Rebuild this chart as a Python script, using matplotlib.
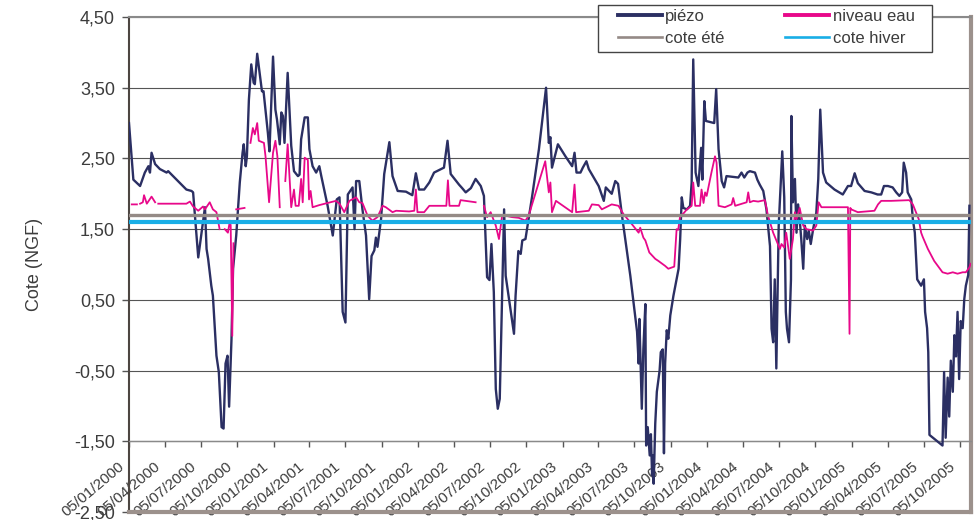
import matplotlib
matplotlib.use("Agg")
import matplotlib.pyplot as plt
import matplotlib.transforms as mtrans
from matplotlib.patches import Rectangle
import numpy as np
import pandas as pd

plt.rcParams['font.family'] = ['Liberation Sans', 'DejaVu Sans']

# --- données (jours depuis le 05/01/2000, cote NGF) ---
debut = pd.Timestamp('2000-01-05')
fin_jours = 2128

jours_piezo = [0, 11, 28, 40, 49, 53, 57, 66, 78, 95, 99, 145, 158, 162, 175, 192, 196, 200, 208, 212,
               221, 227, 234, 239, 244, 249, 253, 259, 263, 271, 280, 287, 290, 295, 298, 303, 309, 315, 318, 324,
               336, 340, 351, 355, 364, 370, 374, 381, 385, 389, 393, 401, 410, 417, 427, 431, 435, 444, 452, 456,
               464, 473, 481, 486, 502, 515, 525, 532, 540, 547, 553, 565, 570, 574, 582, 590, 599, 607, 613, 620,
               624, 628, 637, 645, 658, 666, 679, 700, 716, 725, 733, 746, 759, 771, 796, 805, 813, 834, 842, 851,
               864, 876, 889, 897, 902, 905, 911, 916, 922, 927, 932, 937, 942, 948, 952, 973, 977, 984, 990, 994,
               1002, 1019, 1036, 1054, 1061, 1065, 1069, 1084, 1103, 1120, 1126, 1131, 1141, 1147, 1156, 1162, 1187, 1200, 1205, 1220,
               1229, 1236, 1246, 1267, 1284, 1288, 1290, 1296, 1300, 1305, 1307, 1311, 1316, 1319, 1322, 1324, 1326, 1330, 1334, 1341,
               1344, 1349, 1352, 1355, 1359, 1363, 1368, 1376, 1389, 1393, 1397, 1401, 1410, 1418, 1422, 1426, 1432, 1439, 1446, 1449,
               1454, 1458, 1479, 1484, 1490, 1498, 1504, 1510, 1540, 1548, 1555, 1563, 1569, 1582, 1588, 1594, 1603, 1611, 1620, 1624,
               1628, 1632, 1636, 1642, 1651, 1656, 1660, 1663, 1668, 1673, 1674, 1678, 1683, 1687, 1691, 1695, 1699, 1704, 1708, 1714,
               1718, 1723, 1729, 1737, 1742, 1747, 1754, 1762, 1783, 1804, 1817, 1825, 1834, 1842, 1859, 1876, 1892, 1901, 1908, 1918,
               1930, 1939, 1947, 1954, 1958, 1964, 1968, 1977, 1981, 1986, 1992, 2002, 2009, 2012, 2017, 2020, 2023, 2056, 2060, 2064,
               2069, 2073, 2077, 2082, 2086, 2090, 2094, 2098, 2102, 2107, 2111, 2115, 2121, 2124]
cote_piezo = [3.00, 2.20, 2.11, 2.30, 2.39, 2.30, 2.58, 2.42, 2.35, 2.30, 2.32, 2.06, 2.04, 2.02, 1.10, 1.81, 1.22, 1.08, 0.70, 0.56,
              -0.29, -0.52, -1.30, -1.32, -0.40, -0.29, -1.01, -0.06, 0.94, 1.41, 2.16, 2.58, 2.70, 2.39, 2.53, 3.33, 3.83, 3.57, 3.55, 3.98,
              3.45, 3.45, 2.86, 2.60, 3.94, 3.19, 3.05, 2.70, 3.15, 3.10, 2.72, 3.71, 2.68, 2.32, 2.25, 2.27, 2.77, 3.08, 3.08, 2.63,
              2.39, 2.30, 2.39, 2.25, 1.83, 1.41, 1.92, 1.95, 0.33, 0.18, 1.99, 2.09, 1.50, 2.18, 2.18, 1.78, 1.41, 0.51, 1.12, 1.20,
              1.38, 1.25, 1.64, 2.28, 2.73, 2.25, 2.04, 2.03, 1.98, 2.29, 2.06, 2.06, 2.16, 2.30, 2.37, 2.75, 2.28, 2.13, 2.08, 2.02,
              2.08, 2.21, 2.11, 1.97, 1.26, 0.82, 0.78, 1.29, 0.61, -0.76, -1.04, -0.90, 0.30, 1.78, 0.84, 0.02, 0.56, 1.19, 1.15, 1.34,
              1.36, 1.97, 2.63, 3.50, 2.72, 2.80, 2.37, 2.70, 2.53, 2.39, 2.58, 2.30, 2.30, 2.37, 2.46, 2.35, 2.11, 1.90, 2.09, 2.00,
              2.18, 2.14, 1.69, 0.84, 0.05, -0.40, 0.23, -1.04, -0.19, 0.44, -1.56, -1.30, -1.70, -1.40, -1.98, -1.70, -2.10, -1.25, -0.80, -0.50,
              -0.24, -0.20, -1.67, -0.40, 0.07, -0.05, 0.28, 0.56, 0.94, 1.36, 1.95, 1.80, 1.78, 1.83, 2.16, 3.90, 2.30, 2.11, 2.65, 2.20,
              3.31, 3.03, 3.00, 3.48, 2.63, 2.18, 2.09, 2.25, 2.23, 2.30, 2.23, 2.30, 2.32, 2.30, 2.20, 2.13, 2.04, 1.78, 1.26, 0.09,
              -0.10, 0.79, -0.47, 1.55, 2.60, 1.95, 0.33, 0.09, -0.10, 0.79, 3.10, 1.88, 2.21, 1.45, 1.85, 1.64, 1.36, 0.94, 1.55, 1.36,
              1.48, 1.29, 1.50, 1.73, 2.21, 3.19, 2.30, 2.16, 2.06, 1.99, 2.11, 2.11, 2.29, 2.15, 2.04, 2.02, 1.99, 1.99, 2.11, 2.11,
              2.09, 2.02, 1.97, 2.02, 2.44, 2.30, 2.02, 1.92, 1.64, 1.45, 0.79, 0.70, 0.79, 0.33, 0.10, -0.24, -1.41, -1.56, -0.52, -1.45,
              -0.60, -1.15, -0.36, -0.80, 0.00, -0.30, 0.33, -0.62, 0.20, 0.10, 0.51, 0.70, 0.85, 1.83]

jours_niveau = [7, 20, 24, 28, 35, 38, 45, 57, 66, 70, 74, 145, 154, 162, 175, 187, 192, 204, 212, 221,
                229, 235, 242, 250, 255, 257, 261, 264, 268, 271, 292, 295, 297, 302, 307, 313, 318, 324, 328, 341,
                345, 354, 364, 370, 375, 381, 388, 395, 401, 410, 417, 421, 429, 435, 439, 444, 452, 455, 459, 464,
                481, 523, 532, 544, 557, 574, 582, 590, 603, 615, 628, 641, 649, 666, 675, 708, 721, 725, 729, 746,
                759, 796, 802, 806, 810, 834, 838, 876, 886, 897, 905, 914, 927, 935, 943, 952, 968, 985, 1002, 1010,
                1052, 1061, 1065, 1069, 1079, 1120, 1126, 1130, 1162, 1170, 1187, 1195, 1220, 1237, 1250, 1271, 1288, 1292, 1300, 1305,
                1315, 1330, 1338, 1355, 1363, 1378, 1384, 1388, 1393, 1401, 1410, 1422, 1426, 1431, 1443, 1447, 1452, 1456, 1460, 1472,
                1481, 1485, 1490, 1506, 1523, 1527, 1532, 1561, 1565, 1569, 1578, 1590, 1607, 1615, 1628, 1645, 1649, 1656, 1661, 1670,
                1678, 1683, 1687, 1695, 1704, 1712, 1729, 1737, 1743, 1750, 1817, 1821, 1823, 1825, 1842, 1884, 1893, 1901, 1926, 1972,
                1981, 1989, 1996, 2002, 2006, 2019, 2035, 2056, 2069, 2082, 2094, 2107, 2115, 2124, 2127]
cote_niveau = [1.85, 1.85, None, 1.86, 1.88, 1.98, 1.86, 1.96, 1.88, None, 1.86, 1.86, 1.89, 1.82, 1.76, 1.82, 1.78, 1.88, 1.78, 1.74,
               1.50, None, 1.50, 1.45, 1.62, 1.55, -0.01, 1.30, None, 1.78, 1.80, None, 2.02, None, 2.72, 2.93, 2.84, 3.00, 2.75, 2.72,
               2.53, 1.88, 2.58, 2.75, 2.53, 1.81, None, 2.18, 2.70, 1.81, 2.06, 1.83, 1.83, 2.21, 1.88, 2.51, 2.48, 1.92, 2.04, 1.81,
               1.84, 1.90, 1.86, 1.74, 1.90, 1.95, 1.88, 1.87, 1.69, 1.62, 1.67, 1.83, 1.81, 1.74, 1.76, 1.75, 1.76, 2.06, 1.74, 1.74,
               1.83, 1.83, 1.83, 2.19, 1.83, 1.83, 1.91, 1.88, None, 1.83, 1.67, 1.74, 1.55, 1.36, 1.69, 1.69, 1.67, 1.66, 1.62, 1.69,
               2.46, 2.02, 2.16, 1.74, 1.90, 1.74, 2.13, 1.74, 1.76, 1.85, 1.84, 1.78, 1.85, 1.83, 1.71, 1.57, 1.45, 1.52, 1.38, 1.34,
               1.17, 1.08, 1.05, 0.98, 0.94, 0.97, 1.50, 1.49, 1.69, 1.72, 1.78, 1.83, 2.16, 1.83, 1.83, 2.06, 1.87, 2.02, 1.97, 2.30,
               2.53, 2.44, 1.83, 1.81, 1.85, 1.94, 1.83, 1.88, 2.02, 1.88, 1.90, 1.89, 1.91, 1.69, 1.45, 1.22, 1.29, 1.24, 1.45, 1.08,
               1.36, 1.74, 1.64, 1.80, 1.55, 1.50, 1.48, 1.55, 1.88, 1.81, 1.81, 0.02, 1.80, 1.78, 1.74, 1.76, 1.85, 1.90, 1.90, 1.91,
               1.85, 1.74, 1.64, 1.45, 1.39, 1.22, 1.05, 0.89, 0.87, 0.89, 0.87, 0.89, 0.89, 0.96, 1.01]

cote_ete = 1.70
cote_hiver = 1.60

yticks = [-2.5, -1.5, -0.5, 0.5, 1.5, 2.5, 3.5, 4.5]
ytick_labels = ['-2,50', '-1,50', '-0,50', '0,50', '1,50', '2,50', '3,50', '4,50']
xticks = pd.date_range('2000-01-05', '2005-10-05', freq=pd.DateOffset(months=3))

dates_piezo = debut + pd.to_timedelta(jours_piezo, unit='D')
dates_niveau = debut + pd.to_timedelta(jours_niveau, unit='D')
niveau = np.array(cote_niveau, dtype=float)

txt = '#3c3c3c'
fig = plt.figure(figsize=(9.8, 5.2), dpi=100)
ax = fig.add_axes([129 / 980, 1 - 512 / 520, (971 - 129) / 980, 495 / 520])

ax.plot(dates_piezo, cote_piezo, color='#2b2f63', lw=1.7, zorder=3, label='piézo')
ax.plot(dates_niveau, niveau, color='#e8088a', lw=1.3, zorder=4, label='niveau eau')
ax.axhline(cote_ete, color='#948a86', lw=2.4, zorder=5, label='cote été')
ax.axhline(cote_hiver, color='#19aee6', lw=3.0, zorder=5, label='cote hiver')

ax.set_ylim(-2.5, 4.5)
ax.set_xlim(debut, debut + pd.Timedelta(days=fin_jours))
ax.set_yticks(yticks)
ax.set_yticklabels(ytick_labels)
ax.set_xticks(xticks)
ax.set_xticklabels([d.strftime('%d/%m/%Y') for d in xticks])
ax.grid(axis='y', color='#555555', lw=0.8, zorder=1)

ax.spines['bottom'].set_position(('data', -1.5))
ax.spines['bottom'].set_color('#8a8a8a')
ax.spines['bottom'].set_linewidth(1.0)
ax.spines['left'].set_color('#4d4642')
ax.spines['left'].set_linewidth(1.5)
ax.spines['right'].set_color('#9c918c')
ax.spines['right'].set_linewidth(3)
ax.spines['top'].set_color('#8a8a8a')
ax.spines['top'].set_linewidth(1.5)
ax.axhline(-2.5, color='#9c918c', lw=3, clip_on=False, zorder=6)

ax.tick_params(axis='y', direction='out', length=5, width=1, color='#555555', labelsize=13, labelcolor=txt, pad=5)
ax.tick_params(axis='x', direction='out', length=4, width=1, color='#555555', labelsize=11, labelcolor=txt, pad=13)
shift = mtrans.ScaledTranslation(-7 / 100, 0, fig.dpi_scale_trans)
for lab in ax.get_xticklabels():
    lab.set_rotation(40)
    lab.set_rotation_mode('anchor')
    lab.set_ha('right')
    lab.set_va('center')
    lab.set_transform(lab.get_transform() + shift)

ax.set_ylabel('Cote (NGF)', fontsize=13, color=txt)
ax.yaxis.set_label_coords((43 - 129) / (971 - 129), 0.50)

# légende
fig.patches.append(Rectangle((598 / 980, 1 - 52 / 520), 334 / 980, 47 / 520, transform=fig.transFigure,
                             facecolor='white', edgecolor='#444444', lw=1.0, zorder=8))
h, l = ax.get_legend_handles_labels()
order = [0, 2, 1, 3]
leg = fig.legend([h[i] for i in order], [l[i] for i in order], ncol=2, loc='upper left',
                 bbox_to_anchor=(618 / 980, 1 - 9 / 520), frameon=False, fontsize=12,
                 borderpad=0, handlelength=2.63, handletextpad=0.2, columnspacing=3.65,
                 labelspacing=0.42, borderaxespad=0)
leg.set_zorder(9)
for t in leg.get_texts():
    t.set_color(txt)
for ln, w in zip(leg.get_lines(), [2.8, 1.9, 2.8, 1.9]):
    ln.set_linewidth(w)

fig.savefig('out.png', dpi=100)
